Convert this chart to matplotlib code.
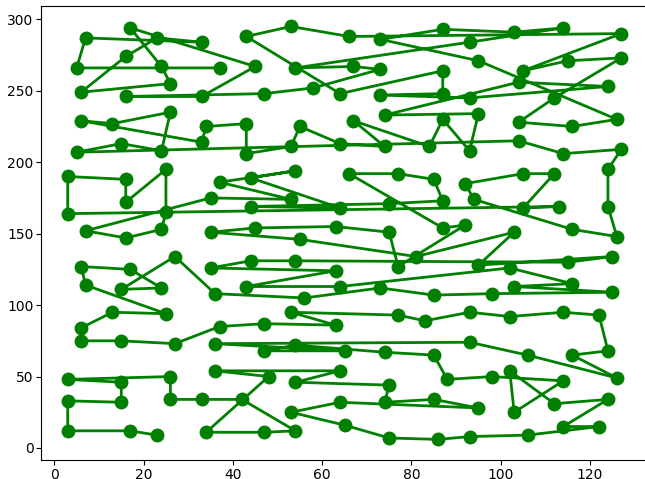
import matplotlib.pyplot as plt

# jittered 13 x 15 grid: one list per column, rows from bottom (0) to top (14)
grid_x = [
    [3, 3, 3, 6, 6, 7, 6, 7, 3, 3, 5, 6, 6, 5, 7],
    [17, 15, 15, 15, 13, 15, 17, 16, 16, 16, 15, 13, 16, 16, 17],
    [23, 26, 26, 27, 25, 24, 27, 24, 25, 25, 24, 26, 26, 24, 23],
    [34, 33, 36, 36, 37, 36, 35, 35, 35, 37, 33, 34, 33, 37, 33],
    [47, 42, 48, 47, 47, 43, 44, 45, 44, 44, 43, 43, 47, 45, 43],
    [54, 53, 54, 54, 53, 56, 54, 55, 53, 54, 53, 55, 58, 54, 53],
    [65, 64, 64, 65, 63, 64, 63, 63, 64, 66, 64, 67, 64, 67, 66],
    [75, 74, 75, 74, 77, 73, 77, 75, 75, 77, 74, 74, 73, 73, 73],
    [86, 85, 88, 85, 83, 85, 81, 87, 87, 85, 84, 87, 87, 87, 87],
    [93, 95, 98, 93, 93, 98, 95, 92, 94, 92, 93, 95, 93, 95, 93],
    [106, 103, 102, 106, 102, 103, 102, 103, 105, 105, 104, 104, 104, 105, 103],
    [114, 112, 114, 116, 114, 116, 115, 116, 113, 112, 114, 116, 112, 115, 114],
    [122, 124, 126, 124, 122, 125, 125, 126, 124, 124, 127, 126, 124, 127, 127],
]
grid_y = [
    [12, 33, 48, 75, 84, 114, 127, 152, 164, 190, 207, 229, 249, 266, 287],
    [12, 32, 46, 75, 95, 111, 125, 147, 172, 188, 213, 227, 246, 274, 294],
    [9, 34, 50, 73, 94, 112, 134, 153, 165, 195, 208, 235, 255, 267, 287],
    [11, 34, 54, 73, 85, 108, 126, 151, 175, 186, 214, 225, 246, 266, 284],
    [11, 34, 50, 68, 87, 113, 131, 154, 169, 189, 206, 227, 248, 267, 288],
    [12, 25, 46, 72, 95, 105, 131, 146, 174, 194, 211, 225, 252, 266, 295],
    [16, 32, 54, 68, 86, 113, 124, 155, 168, 192, 213, 229, 248, 267, 288],
    [7, 32, 44, 67, 93, 112, 127, 151, 171, 192, 211, 233, 247, 265, 286],
    [6, 34, 48, 65, 89, 107, 134, 154, 173, 188, 211, 230, 248, 264, 293],
    [8, 28, 50, 74, 95, 108, 128, 156, 174, 185, 208, 234, 245, 271, 284],
    [9, 25, 54, 65, 92, 113, 126, 151, 168, 192, 215, 228, 256, 264, 291],
    [15, 31, 47, 65, 95, 115, 130, 153, 169, 192, 206, 225, 245, 271, 294],
    [15, 34, 49, 68, 93, 109, 134, 148, 169, 195, 209, 230, 253, 273, 290],
]

# visiting order as (column, row)
path = [
    (3, 13), (0, 13), (0, 14), (3, 14), (2, 14), (1, 13), (0, 12), (2, 12), (2, 13), (1, 14),
    (4, 13), (3, 12), (1, 12), (4, 12), (5, 12), (7, 13), (6, 13), (5, 13), (9, 14), (11, 14),
    (10, 14), (8, 14), (7, 14), (9, 13), (12, 11), (11, 11), (10, 11), (11, 12), (12, 13), (11, 13),
    (10, 13), (12, 14), (6, 14), (5, 14), (4, 14), (6, 12), (8, 13), (8, 12), (7, 12), (9, 12),
    (12, 12), (10, 12), (7, 11),
    (9, 11), (9, 10), (8, 11), (8, 10), (6, 11), (7, 10), (6, 10), (5, 11), (5, 10), (4, 10),
    (4, 11), (3, 11), (3, 10), (0, 11), (1, 11), (2, 11), (2, 10), (1, 10), (0, 10), (10, 10),
    (11, 10), (12, 10),
    (12, 9), (12, 8), (12, 7), (11, 7), (9, 8), (9, 9), (10, 9), (11, 9), (10, 8), (11, 8),
    (0, 8), (0, 9), (1, 9), (1, 8), (2, 9), (2, 8), (2, 7), (1, 7), (0, 7), (3, 8),
    (5, 8), (3, 9), (5, 9), (4, 9), (6, 8), (4, 8), (7, 8), (8, 8), (8, 9), (7, 9),
    (6, 9), (8, 7), (9, 7), (7, 6), (7, 7), (6, 7), (4, 7), (3, 7), (5, 7), (8, 6),
    (10, 7), (9, 6), (12, 6), (11, 6), (5, 6), (4, 6), (3, 6), (6, 6), (4, 5), (6, 5),
    (10, 6), (11, 5), (10, 5), (12, 5), (9, 5), (8, 5), (7, 5), (5, 5), (3, 5), (2, 6),
    (1, 5), (2, 5), (1, 6), (0, 6), (0, 5), (2, 4),
    (1, 4), (0, 4), (0, 3), (1, 3), (2, 3), (3, 4), (4, 4), (6, 4), (5, 4), (7, 4),
    (8, 4), (9, 4), (10, 4), (11, 4), (12, 4), (12, 3), (11, 3), (12, 2), (10, 3), (9, 3),
    (3, 3), (6, 3), (4, 3), (5, 3), (7, 3), (8, 3), (8, 2), (9, 2), (11, 2), (10, 1),
    (10, 2), (11, 1), (12, 1), (11, 0), (12, 0), (10, 0), (9, 0), (8, 0), (7, 0), (6, 0),
    (5, 1), (6, 1), (9, 1), (8, 1), (7, 1), (7, 2), (5, 2), (6, 2), (3, 2), (4, 2),
    (3, 0), (4, 0), (5, 0), (4, 1), (3, 1), (2, 1), (2, 2), (0, 2), (1, 2), (1, 1),
    (0, 1), (0, 0), (1, 0), (2, 0),
]
assert len(set(path)) == len(path) == 195

x = [grid_x[c][r] for c, r in path]
y = [grid_y[c][r] for c, r in path]

fig = plt.figure(figsize=(6.45, 4.79), dpi=100)
ax = fig.add_axes([0.0636, 0.0397, 0.944, 0.948])
ax.plot(x, y, '-o', color='green', linewidth=2, markersize=9)
ax.set_xlim(-2.98, 133.4)
ax.set_ylim(-8.4, 309.4)
ax.spines['right'].set_visible(False)
ax.tick_params(pad=2)

plt.savefig('out.png')
